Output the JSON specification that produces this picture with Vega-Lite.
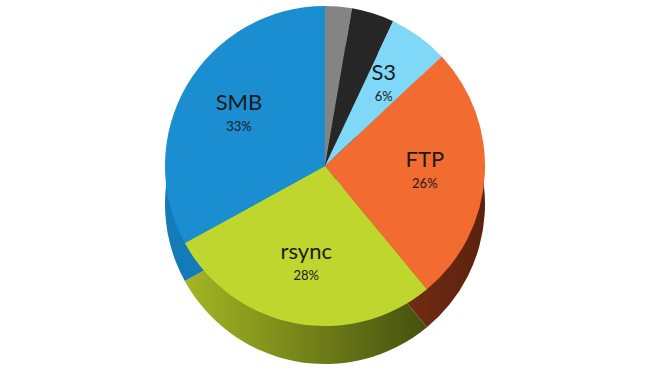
{
  "$schema": "https://vega.github.io/schema/vega-lite/v6.json",
  "width": 650,
  "height": 370,
  "autosize": {"type": "fit", "contains": "padding"},
  "background": "white",
  "view": {"stroke": null},
  "data": {
    "values": [
      {"name": "Other A", "label": "", "pct": "", "value": 2.7, "order": 1},
      {"name": "Other B", "label": "", "pct": "", "value": 4.3, "order": 2},
      {"name": "S3", "label": "S3", "pct": "6%", "value": 6, "order": 3},
      {"name": "FTP", "label": "FTP", "pct": "26%", "value": 26, "order": 4},
      {"name": "rsync", "label": "rsync", "pct": "28%", "value": 28, "order": 5},
      {"name": "SMB", "label": "SMB", "pct": "33%", "value": 33, "order": 6}
    ]
  },
  "encoding": {
    "theta": {"field": "value", "type": "quantitative", "stack": true},
    "order": {"field": "order", "type": "quantitative"}
  },
  "layer": [
    {
      "mark": {"type": "arc", "outerRadius": 160, "yOffset": 19},
      "encoding": {
        "color": {
          "condition": [
            {"test": "datum.name === 'rsync'", "value": {"gradient": "linear", "x1": 0, "y1": 0, "x2": 1, "y2": 0, "stops": [{"offset": 0, "color": "#a4b623"}, {"offset": 1, "color": "#44500f"}]}},
            {"test": "datum.name === 'FTP'", "value": {"gradient": "linear", "x1": 0, "y1": 0, "x2": 1, "y2": 0, "stops": [{"offset": 0, "color": "#8a3616"}, {"offset": 1, "color": "#5a220e"}]}}
          ],
          "field": "name",
          "type": "nominal",
          "scale": {"domain": ["Other A", "Other B", "S3", "FTP", "rsync", "SMB"], "range": ["#606060", "#111111", "#5fb0cc", "#6e2a12", "#7a8a1a", "#157ab8"]},
          "legend": null
        }
      }
    },
    {
      "mark": {"type": "arc", "outerRadius": 160, "yOffset": -19},
      "encoding": {
        "fill": {
          "field": "name",
          "type": "nominal",
          "scale": {"domain": ["Other A", "Other B", "S3", "FTP", "rsync", "SMB"], "range": ["#848484", "#262626", "#80d8f8", "#f26b30", "#bfd62e", "#1a8ed0"]},
          "legend": null
        }
      }
    },
    {
      "mark": {"type": "text", "radius": 100, "yOffset": -31, "font": "Lato", "fontSize": 22, "color": "#1a1a1a", "baseline": "middle"},
      "encoding": {"text": {"field": "label"}}
    },
    {
      "mark": {"type": "text", "radius": 100, "yOffset": -7, "font": "Lato", "fontSize": 13, "color": "#1a1a1a", "baseline": "middle"},
      "encoding": {"text": {"field": "pct"}}
    }
  ],
  "resolve": {"scale": {"color": "independent", "fill": "independent"}}
}
